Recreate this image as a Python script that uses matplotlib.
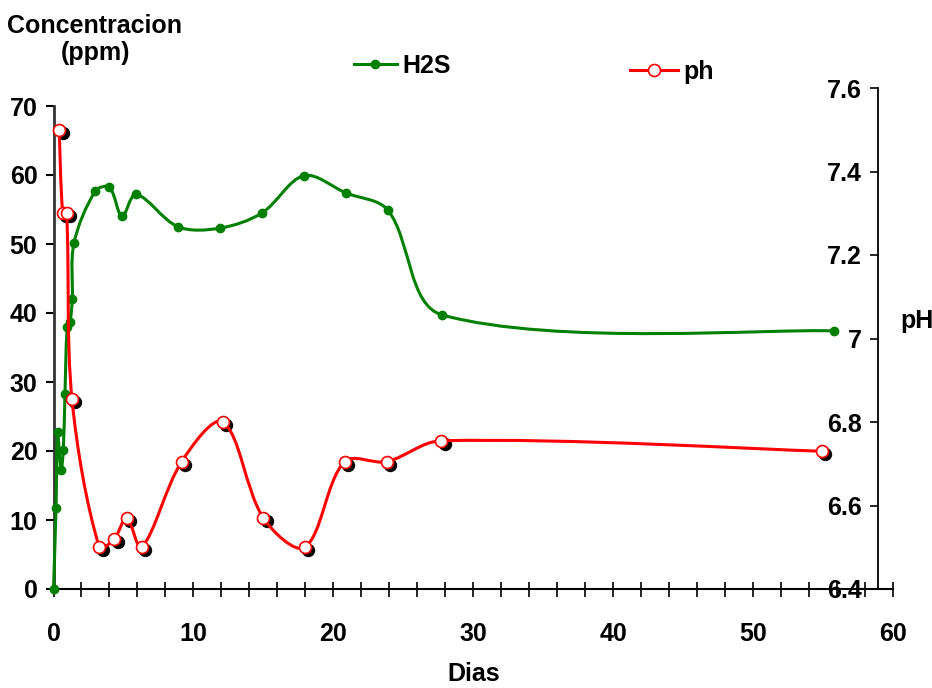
import numpy as np
import matplotlib
matplotlib.use('Agg')
import matplotlib.pyplot as plt
import matplotlib.transforms as mtransforms
from matplotlib.path import Path
from matplotlib.patches import PathPatch
from matplotlib.lines import Line2D
from matplotlib.ticker import MultipleLocator

plt.rcParams['font.family'] = ['Liberation Sans', 'DejaVu Sans']
plt.rcParams['font.weight'] = 'bold'
plt.rcParams['font.size'] = 18

# H2S concentracion (ppm) por dia
dias_h2s = [0, 0.18, 0.29, 0.54, 0.7, 0.82, 0.98, 1.18, 1.34, 1.46,
            3.0, 4.0, 4.9, 5.9, 8.9, 11.9, 14.9, 17.9, 20.9, 23.9, 27.8, 55.8]
h2s = [0, 11.7, 22.7, 17.2, 20.2, 28.3, 37.9, 38.7, 42.0, 50.1,
       57.7, 58.2, 54.0, 57.2, 52.5, 52.3, 54.5, 59.9, 57.4, 54.9, 39.7, 37.4]

# pH por dia
dias_ph = [0.41, 0.66, 0.94, 1.32, 3.27, 4.34, 5.23, 6.3, 9.16, 12.1,
           15.0, 17.96, 20.8, 23.8, 27.7, 54.9]
ph = [7.50, 7.30, 7.30, 6.855, 6.50, 6.52, 6.57, 6.50, 6.705, 6.80,
      6.57, 6.50, 6.705, 6.705, 6.755, 6.73]

ph_ticks = [6.4, 6.6, 6.8, 7.0, 7.2, 7.4, 7.6]
ph_labels = ['6.4', '6.6', '6.8', '7', '7.2', '7.4', '7.6']

verde = '#008000'
rojo = '#FF0000'


def smooth_path(x, y, sx, sy):
    # bezier smoothing ("smoothed line"), tangents scaled by chord length in pixels
    pts = np.column_stack([x, y]).astype(float)
    scr = pts * [sx, sy]
    n = len(pts)
    d = np.hypot(*np.diff(scr, axis=0).T)
    verts = [pts[0]]
    codes = [Path.MOVETO]
    for i in range(n - 1):
        a = max(i - 1, 0)
        b = min(i + 2, n - 1)
        d_prev = d[i - 1] if i > 0 else d[i]
        d_next = d[i + 1] if i + 1 < n - 1 else d[i]
        c1 = pts[i] + (pts[i + 1] - pts[a]) * d[i] / (d_prev + d[i]) / 3
        c2 = pts[i + 1] - (pts[b] - pts[i]) * d[i] / (d[i] + d_next) / 3
        verts += [c1, c2, pts[i + 1]]
        codes += [Path.CURVE4] * 3
    return Path(verts, codes)


W, H = 932, 688
fig = plt.figure(figsize=(W / 100, H / 100), dpi=100)

x0, x60, y0 = 53.5, 893, 589
right_px = 878
ax = fig.add_axes([x0 / W, (H - y0) / H, (x60 - x0) / W, (y0 - 106) / H])
ax2 = fig.add_axes([x0 / W, (H - y0) / H, (right_px - x0) / W, (y0 - 88) / H])
ax2.patch.set_visible(False)

# left axis / x axis
ax.set_xlim(0, 60)
ax.set_ylim(0, 70)
for s in ['top', 'right']:
    ax.spines[s].set_visible(False)
ax.spines['left'].set_linewidth(2)
ax.spines['left'].set_color('#333333')
ax.spines['bottom'].set_linewidth(1.5)
ax.xaxis.set_major_locator(MultipleLocator(10))
ax.xaxis.set_minor_locator(MultipleLocator(2))
ax.yaxis.set_major_locator(MultipleLocator(10))
ax.tick_params(axis='x', which='both', direction='inout', length=10.8, width=1.2, pad=18.4)
ax.tick_params(axis='y', direction='out', length=5.8, width=1.5, pad=5.8)

px_x = (x60 - x0) / 60
ax.add_patch(PathPatch(smooth_path(dias_h2s, h2s, px_x, (y0 - 106) / 70),
                       facecolor='none', edgecolor=verde, lw=2.2, clip_on=False, zorder=3))
ax.plot(dias_h2s, h2s, 'o', color=verde, ms=6, clip_on=False, zorder=4)

# right axis (pH)
ax2.set_xlim(0, (right_px - x0) / px_x)
ax2.set_ylim(6.4, 7.6)
for s in ['top', 'left', 'bottom']:
    ax2.spines[s].set_visible(False)
ax2.spines['right'].set_linewidth(1.3)
ax2.set_xticks([])
ax2.yaxis.tick_right()
ax2.set_yticks(ph_ticks)
ax2.set_yticklabels(ph_labels)
ax2.tick_params(axis='y', direction='in', length=6, width=1.2, pad=-11.5)
for lab in ax2.get_yticklabels():
    lab.set_ha('right')

shadow = mtransforms.offset_copy(ax2.transData, fig=fig, x=3.5, y=-3.0, units='dots')
ax2.plot(dias_ph, ph, 'o', color='black', ms=8.6, transform=shadow, zorder=2, clip_on=False)
ax2.add_patch(PathPatch(smooth_path(dias_ph, ph, px_x, (y0 - 88) / 1.2),
                        facecolor='none', edgecolor=rojo, lw=2.2, clip_on=False, zorder=3))
ax2.plot(dias_ph, ph, 'o', mfc='white', mec=rojo, mew=1.2, ms=8.6, zorder=4, clip_on=False)

# texts
fig.text(95 / W, 1 - 33 / H, 'Concentracion', ha='center', va='baseline')
fig.text(95 / W, 1 - 60 / H, '(ppm)', ha='center', va='baseline')
fig.text(474 / W, 1 - 681 / H, 'Dias', ha='center', va='baseline')
fig.text(917 / W, 1 - 328 / H, 'pH', ha='center', va='baseline')

# legend (two separate entries like the original)
h1 = Line2D([], [], color=verde, lw=2.2, marker='o', ms=6)
h2 = Line2D([], [], color=rojo, lw=2.2, marker='o', mfc='white', mec=rojo, mew=1.2, ms=8.6)
fig.legend(handles=[h1], labels=['H2S'], loc='center left', bbox_to_anchor=(354 / W, 1 - 66 / H),
           frameon=False, borderpad=0, borderaxespad=0, handlelength=1.7, handletextpad=0.25)
fig.legend(handles=[h2], labels=['ph'], loc='center left', bbox_to_anchor=(630 / W, 1 - 72 / H),
           frameon=False, borderpad=0, borderaxespad=0, handlelength=1.9, handletextpad=0.25)

plt.savefig('out.png', dpi=100)
